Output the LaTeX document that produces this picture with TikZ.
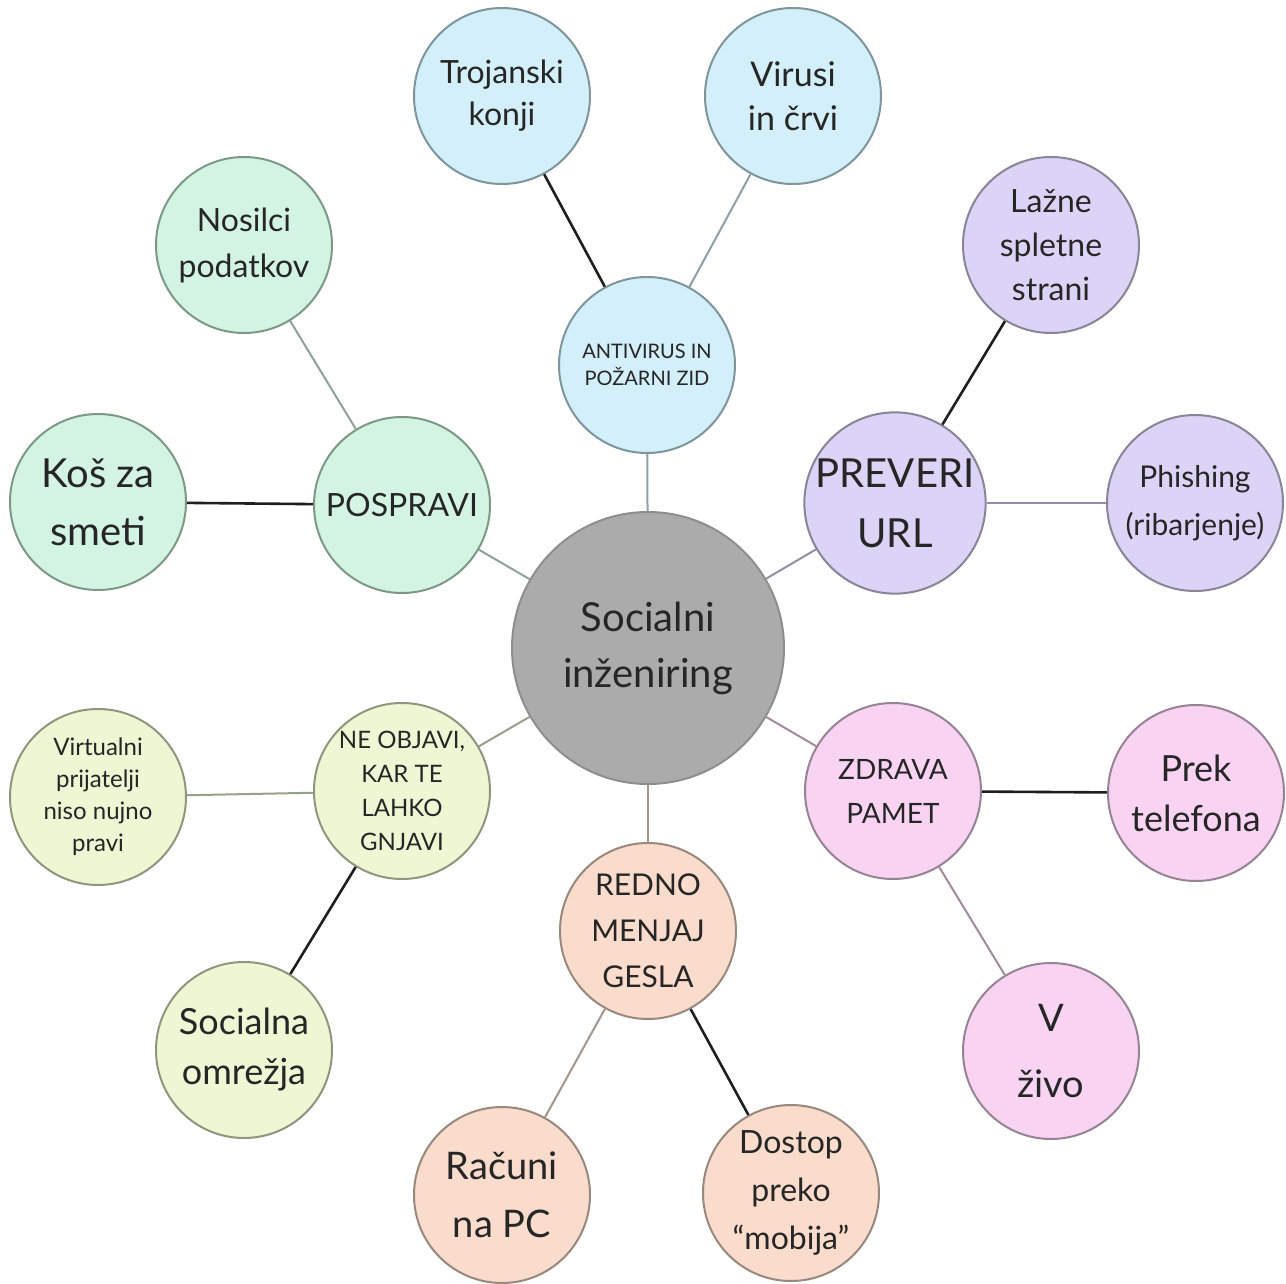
\documentclass[tikz,border=0pt]{standalone}
\usepackage{fontspec}
\setmainfont{Lato}
% palette
\definecolor{coreFill}{HTML}{ABABAB}\definecolor{coreLine}{HTML}{8E8E8E}
\definecolor{bluFill}{HTML}{D3EFFA}\definecolor{bluLine}{HTML}{7F959C}\definecolor{bluLink}{HTML}{8EA0A6}
\definecolor{grnFill}{HTML}{D3F4E3}\definecolor{grnLine}{HTML}{7E9886}\definecolor{grnLink}{HTML}{8EA396}
\definecolor{purFill}{HTML}{DCD4F6}\definecolor{purLine}{HTML}{8A8496}\definecolor{purLink}{HTML}{968CA8}
\definecolor{pnkFill}{HTML}{F8D4F2}\definecolor{pnkLine}{HTML}{968394}\definecolor{pnkLink}{HTML}{A08C9C}
\definecolor{pchFill}{HTML}{F9DCCB}\definecolor{pchLine}{HTML}{98887E}\definecolor{pchLink}{HTML}{A4968C}
\definecolor{ylwFill}{HTML}{EEF6D4}\definecolor{ylwLine}{HTML}{8E977E}\definecolor{ylwLink}{HTML}{96A08A}
\begin{document}
\begin{tikzpicture}[x=0.5pt,y=-0.5pt,
  bub/.style={circle, line width=1pt, minimum size=88pt, inner sep=0pt, align=center, text=black!85},
  gBlu/.style={bub, fill=bluFill, draw=bluLine},
  gGrn/.style={bub, fill=grnFill, draw=grnLine},
  gPur/.style={bub, fill=purFill, draw=purLine},
  gPnk/.style={bub, fill=pnkFill, draw=pnkLine},
  gPch/.style={bub, fill=pchFill, draw=pchLine},
  gYlw/.style={bub, fill=ylwFill, draw=ylwLine},
  sz/.style n args={2}{font={\fontsize{#1}{#2}\selectfont}},
  soft/.style={line width=1pt, draw=#1},
  dark/.style={line width=1.3pt, draw=black!88},
]
\useasboundingbox[fill=white] (0,0) rectangle (1286,1284);

% central topic
\node[bub, minimum size=136pt, fill=coreFill, draw=coreLine, sz={20}{28}] (core) at (648,648) {Socialni\\inženiring};

% six branches
\node[gBlu, sz={10}{13.5}] (av)    at (647,365) {ANTIVIRUS IN\\POŽARNI ZID};
\node[gGrn, sz={16}{22}]   (pos)   at (402,505) {POSPRAVI};
\node[gPur, sz={20}{30}]   (url)   at (895,503) {PREVERI\\URL};
\node[gYlw, sz={12}{17}]   (ne)    at (402,791) {NE OBJAVI,\\KAR TE\\LAHKO\\GNJAVI};
\node[gPnk, sz={14}{22}]   (zd)    at (893,791) {ZDRAVA\\PAMET};
\node[gPch, sz={15}{23}]   (gesla) at (648,931) {REDNO\\MENJAJ\\GESLA};

% leaves
\node[gBlu, sz={16}{21}] (troj) at (502,96)   {Trojanski\\konji};
\node[gBlu, sz={17}{22}] (vir)  at (793,96)   {Virusi\\in črvi};
\node[gGrn, sz={16}{23}] (nos)  at (244,245)  {Nosilci\\podatkov};
\node[gGrn, sz={20}{29}] (kos)  at (98,502)   {Koš za\\smeti};
\node[gPur, sz={16}{22}] (laz)  at (1051,245) {Lažne\\spletne\\strani};
\node[gPur, sz={15}{24}] (phi)  at (1195,503) {Phishing\\(ribarjenje)};
\node[gPnk, sz={18}{25}] (tel)  at (1196,793) {Prek\\telefona};
\node[gPnk, sz={19}{33}] (ziv)  at (1051,1051){V\\živo};
\node[gYlw, sz={12}{16}] (virt) at (98,797)   {Virtualni\\prijatelji\\niso nujno\\pravi};
\node[gYlw, sz={18}{25}] (soc)  at (244,1050) {Socialna\\omrežja};
\node[gPch, sz={19}{29}] (rac)  at (502,1195) {Računi\\na PC};
\node[gPch, sz={16}{24}] (dos)  at (791,1193) {Dostop\\preko\\“mobija”};

% connectors from the centre
\draw[soft=bluLink] (core) -- (av);
\draw[soft=grnLink] (core) -- (pos);
\draw[soft=purLink] (core) -- (url);
\draw[soft=ylwLink] (core) -- (ne);
\draw[soft=pnkLink] (core) -- (zd);
\draw[soft=pchLink] (core) -- (gesla);

% connectors to the leaves
\draw[dark]         (av) -- (troj);
\draw[soft=bluLink] (av) -- (vir);
\draw[soft=grnLink] (pos) -- (nos);
\draw[dark]         (pos) -- (kos);
\draw[dark]         (url) -- (laz);
\draw[soft=purLink] (url) -- (phi);
\draw[dark]         (zd) -- (tel);
\draw[soft=pnkLink] (zd) -- (ziv);
\draw[soft=ylwLink] (ne) -- (virt);
\draw[dark]         (ne) -- (soc);
\draw[soft=pchLink] (gesla) -- (rac);
\draw[dark]         (gesla) -- (dos);
\end{tikzpicture}
\end{document}
